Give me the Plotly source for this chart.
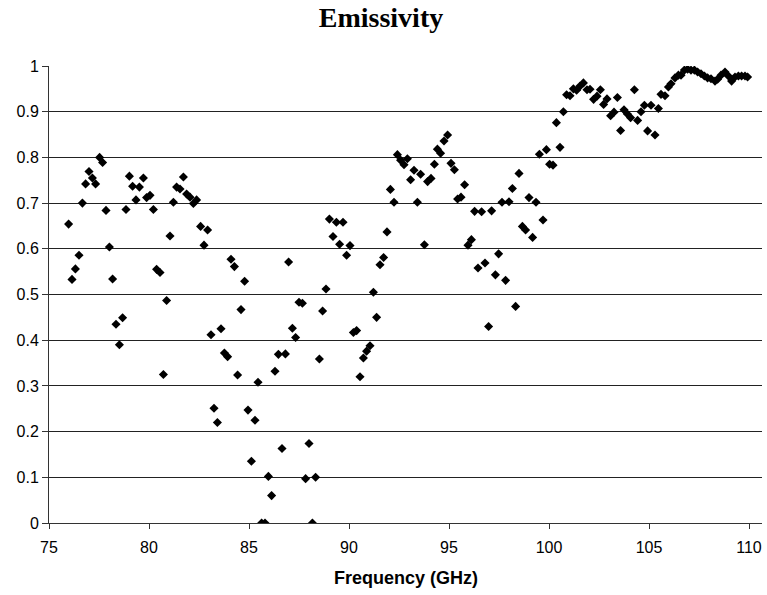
import plotly.graph_objects as go

freq_ghz = [
    75.98, 76.15, 76.32, 76.50, 76.67, 76.83, 77.00, 77.17, 77.33, 77.53,
    77.68, 77.85, 78.02, 78.18, 78.35, 78.52, 78.68, 78.85, 79.02, 79.18,
    79.35, 79.52, 79.72, 79.88, 80.05, 80.22, 80.38, 80.55, 80.72, 80.88,
    81.05, 81.22, 81.38, 81.55, 81.72, 81.88, 82.05, 82.22, 82.38, 82.58,
    82.75, 82.93, 83.10, 83.25, 83.42, 83.60, 83.77, 83.93, 84.10, 84.27,
    84.43, 84.60, 84.78, 84.95, 85.12, 85.30, 85.45, 85.63, 85.80, 85.97,
    86.13, 86.30, 86.47, 86.65, 86.82, 86.98, 87.17, 87.33, 87.50, 87.67,
    87.83, 88.00, 88.17, 88.33, 88.52, 88.68, 88.85, 89.02, 89.20, 89.37,
    89.53, 89.70, 89.88, 90.05, 90.22, 90.38, 90.55, 90.72, 90.88, 91.05,
    91.22, 91.38, 91.55, 91.73, 91.90, 92.07, 92.25, 92.42, 92.58, 92.75,
    92.92, 93.08, 93.25, 93.42, 93.58, 93.77, 93.93, 94.10, 94.27, 94.42,
    94.58, 94.75, 94.93, 95.10, 95.27, 95.43, 95.60, 95.78, 95.95, 96.12,
    96.28, 96.45, 96.63, 96.80, 96.98, 97.13, 97.32, 97.48, 97.65, 97.83,
    98.00, 98.17, 98.33, 98.50, 98.67, 98.83, 99.00, 99.18, 99.35, 99.52,
    99.70, 99.87, 100.03, 100.20, 100.37, 100.55, 100.72, 100.88, 101.05, 101.22,
    101.38, 101.55, 101.72, 101.90, 102.05, 102.23, 102.40, 102.57, 102.73, 102.90,
    103.08, 103.25, 103.42, 103.58, 103.75, 103.92, 104.08, 104.27, 104.43, 104.60,
    104.77, 104.93, 105.10, 105.30, 105.47, 105.60, 105.80, 105.97, 106.10, 106.30,
    106.47, 106.60, 106.77, 106.93, 107.10, 107.27, 107.43, 107.60, 107.77, 107.93,
    108.10, 108.30, 108.43, 108.60, 108.80, 108.97, 109.13, 109.30, 109.47, 109.63,
    109.80, 109.93,
]

emissivity = [
    0.654, 0.533, 0.556, 0.586, 0.700, 0.742, 0.769, 0.755, 0.742, 0.800,
    0.789, 0.684, 0.604, 0.534, 0.435, 0.390, 0.449, 0.686, 0.759, 0.737,
    0.707, 0.735, 0.755, 0.712, 0.717, 0.686, 0.555, 0.548, 0.325, 0.487,
    0.628, 0.702, 0.735, 0.731, 0.757, 0.720, 0.713, 0.699, 0.707, 0.649,
    0.608, 0.641, 0.412, 0.251, 0.220, 0.425, 0.372, 0.364, 0.577, 0.561,
    0.324, 0.467, 0.529, 0.247, 0.135, 0.225, 0.308, 0.000, 0.000, 0.102,
    0.060, 0.332, 0.369, 0.163, 0.370, 0.571, 0.426, 0.406, 0.483, 0.481,
    0.097, 0.174, 0.000, 0.100, 0.359, 0.464, 0.512, 0.665, 0.627, 0.658,
    0.610, 0.658, 0.586, 0.607, 0.417, 0.421, 0.320, 0.361, 0.376, 0.388,
    0.505, 0.450, 0.565, 0.581, 0.637, 0.730, 0.702, 0.806, 0.794, 0.784,
    0.797, 0.751, 0.772, 0.702, 0.763, 0.609, 0.747, 0.754, 0.785, 0.818,
    0.809, 0.836, 0.849, 0.787, 0.773, 0.709, 0.713, 0.740, 0.608, 0.620,
    0.682, 0.558, 0.681, 0.569, 0.430, 0.683, 0.543, 0.589, 0.702, 0.531,
    0.703, 0.732, 0.474, 0.765, 0.649, 0.641, 0.712, 0.625, 0.702, 0.807,
    0.663, 0.817, 0.785, 0.783, 0.876, 0.822, 0.900, 0.937, 0.935, 0.950,
    0.947, 0.956, 0.963, 0.948, 0.949, 0.927, 0.934, 0.948, 0.916, 0.928,
    0.891, 0.899, 0.931, 0.859, 0.904, 0.895, 0.887, 0.948, 0.881, 0.900,
    0.914, 0.858, 0.914, 0.849, 0.907, 0.938, 0.935, 0.954, 0.961, 0.974,
    0.980, 0.980, 0.991, 0.993, 0.991, 0.991, 0.987, 0.983, 0.978, 0.974,
    0.972, 0.967, 0.971, 0.980, 0.987, 0.978, 0.967, 0.976, 0.978, 0.978,
    0.978, 0.976,
]

x_ticks = [75, 80, 85, 90, 95, 100, 105, 110]
y_ticks = [0, 0.1, 0.2, 0.3, 0.4, 0.5, 0.6, 0.7, 0.8, 0.9, 1]

W, H = 767, 595
L, R, T, B = 49, 5, 66, 72

fig = go.Figure()
fig.add_trace(go.Scatter(
    x=freq_ghz, y=emissivity, mode="markers",
    marker=dict(symbol="diamond", size=7, color="black", line=dict(width=0)),
    showlegend=False,
))

plot_h = H - T - B
fig.add_annotation(
    text="<b>Frequency (GHz)</b>", xref="paper", yref="paper",
    x=0.5, y=(H - B - 578) / plot_h, xanchor="center", yanchor="middle",
    showarrow=False, font=dict(family="Liberation Sans, Arial, sans-serif", size=18, color="black"),
)

fig.update_layout(
    width=W, height=H,
    margin=dict(l=L, r=R, t=T, b=B),
    paper_bgcolor="white", plot_bgcolor="white",
    font=dict(family="Liberation Sans, Arial, sans-serif", size=16, color="black"),
    title=dict(text="<b>Emissivity</b>", x=381 / W, xanchor="center", y=1 - 17 / H, yanchor="middle",
               font=dict(family="Liberation Serif, Times New Roman, serif", size=28, color="black")),
    xaxis=dict(
        range=[75, 110.65], tickvals=x_ticks, ticktext=[str(v) for v in x_ticks],
        showgrid=False, zeroline=False,
        showline=True, linecolor="#333333", linewidth=1,
        ticks="outside", ticklen=5, tickcolor="#333333",
        tickfont=dict(size=16), ticklabelstandoff=5,
    ),
    yaxis=dict(
        range=[0, 1], tickvals=y_ticks, ticktext=[f"{v:g}" for v in y_ticks],
        showgrid=True, gridcolor="#222222", gridwidth=1, zeroline=False,
        showline=True, linecolor="#333333", linewidth=1,
        ticks="outside", ticklen=6, tickcolor="#333333",
        tickfont=dict(size=16),
    ),
)

fig.write_html(
    "out.html",
    config={"displayModeBar": False},
    post_script="document.body.style.margin='0';document.body.style.overflow='hidden';",
)
